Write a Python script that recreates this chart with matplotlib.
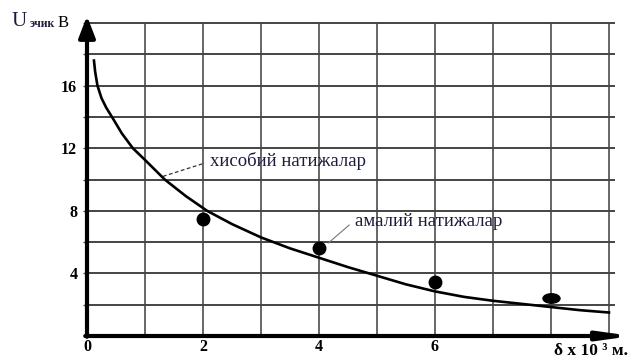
import matplotlib.pyplot as plt
from matplotlib.markers import MarkerStyle
from matplotlib.transforms import Affine2D

# calculated curve
curve_x = [0.12, 0.14, 0.18, 0.25, 0.33, 0.43, 0.6, 0.79, 1.0, 1.34, 1.7, 2.07,
           2.5, 3.0, 3.5, 4.0, 4.5, 5.0, 5.5, 6.0, 6.5, 7.0, 7.5, 8.0, 8.5, 9.0]
curve_y = [17.6, 16.9, 16.0, 15.2, 14.6, 14.0, 12.95, 12.0, 11.25, 10.0, 8.95, 8.0,
           7.15, 6.3, 5.6, 5.0, 4.4, 3.85, 3.3, 2.85, 2.5, 2.25, 2.05, 1.85, 1.65, 1.5]

# measured points
meas_x = [2, 4, 6]
meas_y = [7.5, 5.6, 3.45]
last_x = [8]
last_y = [2.4]

y_ticks = list(range(2, 21, 2))
y_labels = ["", "4", "", "8", "", "12", "", "16", "", ""]
x_ticks = [0, 2, 4, 6]
x_labels = ["0", "2", "4", "6"]

serif = ["Liberation Serif", "DejaVu Serif"]
ink = "#1c1c3c"

fig = plt.figure(figsize=(6.4, 3.58), dpi=100)
ax = fig.add_axes([87 / 640, 22 / 358, 9.45 * 58 / 640, 20.5 * 15.65 / 358])
ax.set_xlim(0, 9.45)
ax.set_ylim(0, 20.5)
for s in ax.spines.values():
    s.set_visible(False)

# grid
ax.vlines(range(1, 10), 0, 20, colors="#666666", lw=1.4, zorder=1)
ax.hlines(y_ticks, 0, 9.1, colors="#444444", lw=1.4, zorder=1)

# axes with arrows
ax.annotate("", xy=(0, 20.45), xytext=(0, -0.05),
            arrowprops=dict(arrowstyle="-|>,head_length=1.3,head_width=0.5",
                            lw=3, color="black", shrinkA=0, shrinkB=0),
            annotation_clip=False, zorder=4)
ax.annotate("", xy=(9.4, 0), xytext=(-0.03, 0),
            arrowprops=dict(arrowstyle="-|>,head_length=1.8,head_width=0.25",
                            lw=3, color="black", shrinkA=0, shrinkB=0),
            annotation_clip=False, zorder=4)

ax.plot(curve_x, curve_y, color="black", lw=1.9, zorder=3,
        solid_joinstyle="round")
ax.plot(meas_x, meas_y, "o", color="black", ms=9, zorder=5)
oblong = MarkerStyle("o", transform=Affine2D().scale(1.8, 1.0))
ax.plot(last_x, last_y, marker=oblong, ls="none", color="black", ms=6.8, zorder=5)

# ticks
ax.set_yticks(y_ticks)
ax.set_yticklabels(y_labels, fontfamily=serif, fontweight="bold", fontsize=11.5)
ax.set_xticks(x_ticks)
ax.set_xticklabels(x_labels, fontfamily=serif, fontweight="bold", fontsize=11.5)
ax.tick_params(axis="y", length=3, width=1, color="#444444", pad=4)
ax.tick_params(axis="x", length=0, pad=2)

# annotations
ax.plot([1.31, 2.03], [10.2, 11.05], ls="--", color="#333333", lw=0.9, dashes=(3, 2))
ax.text(2.12, 11.2, "хисобий натижалар", fontfamily=serif, fontsize=13.5,
        color=ink, va="center", ha="left")
ax.plot([4.16, 4.52], [5.94, 7.09], ls="-", color="#777777", lw=0.8)
ax.text(4.62, 7.3, "амалий натижалар", fontfamily=serif, fontsize=13.5,
        color=ink, va="center", ha="left")

ax.text(8.05, -0.95, "δ x 10 ³ м.", fontfamily=serif, fontweight="bold",
        fontsize=12.5, color="black", va="center", ha="left", clip_on=False)

# y axis label
fig.text(12 / 640, 1 - 22 / 358, "U", fontfamily=serif, fontsize=15,
         color=ink, va="center", ha="left")
fig.text(30 / 640, 1 - 24 / 358, "эчик", fontfamily=serif, fontsize=8.5,
         fontweight="bold", color=ink, va="center", ha="left")
fig.text(58 / 640, 1 - 23 / 358, "В", fontfamily=serif, fontsize=12,
         color="black", va="center", ha="left")

fig.savefig("out.png", dpi=100)
